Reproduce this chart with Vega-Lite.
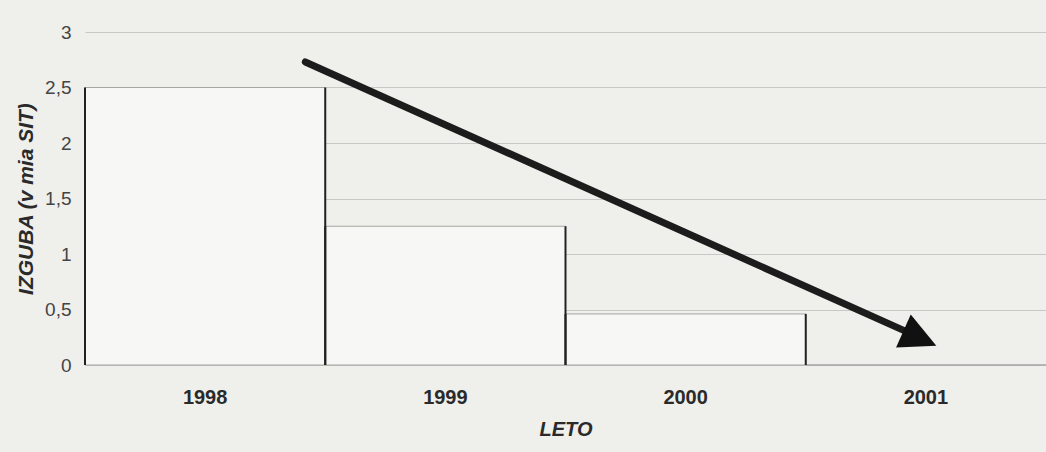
{
  "$schema": "https://vega.github.io/schema/vega-lite/v6.json",
  "width": 961,
  "height": 333,
  "autosize": {"type": "none"},
  "padding": {"left": 85, "top": 32, "right": 0, "bottom": 87},
  "background": "#efefec",
  "config": {
    "view": {"stroke": null},
    "font": "Liberation Sans"
  },
  "datasets": {
    "bars": [
      {"leto": "1998", "izguba": 2.5},
      {"leto": "1999", "izguba": 1.25},
      {"leto": "2000", "izguba": 0.46},
      {"leto": "2001", "izguba": 0}
    ],
    "arrow": [
      {"ax": 0.917, "ay": 2.73},
      {"ax": 3.44, "ay": 0.28}
    ],
    "head": [
      {"ax": 3.475, "ay": 0.24}
    ]
  },
  "layer": [
    {
      "layer": [
        {
          "data": {"name": "bars"},
          "mark": {"type": "bar", "fill": "#f7f7f5", "stroke": "#a5a5a3", "strokeWidth": 1},
          "encoding": {
            "x": {
              "field": "leto", "type": "nominal", "sort": null,
              "scale": {"paddingInner": 0, "paddingOuter": 0},
              "axis": {
                "title": "LETO", "labelAngle": 0, "ticks": false, "domain": false,
                "labelFontWeight": "bold", "labelFontSize": 20, "labelColor": "#2a2a2a",
                "labelPadding": 22, "titleFontSize": 20, "titleFontStyle": "italic",
                "titleFontWeight": "bold", "titleColor": "#2a2a2a", "titlePadding": 12
              }
            },
            "y": {
              "field": "izguba", "type": "quantitative",
              "scale": {"domain": [0, 3]},
              "axis": {
                "title": "IZGUBA (v mia SIT)", "values": [0, 0.5, 1, 1.5, 2, 2.5, 3],
                "labelExpr": "replace(format(datum.value, ''), '.', ',')",
                "grid": true, "gridColor": "#c8c8c6", "gridWidth": 1,
                "domain": false, "ticks": false,
                "labelFontSize": 19, "labelColor": "#444", "labelPadding": 14,
                "titleFontSize": 21, "titleFontStyle": "italic", "titleFontWeight": "bold",
                "titleColor": "#2a2a2a", "titlePadding": 8
              }
            }
          }
        },
        {
          "data": {"name": "bars"},
          "mark": {"type": "rule", "color": "#222", "strokeWidth": 2},
          "encoding": {
            "x": {"field": "leto", "type": "nominal", "sort": null, "bandPosition": 0},
            "y": {"field": "izguba", "type": "quantitative"},
            "y2": {"datum": 0}
          }
        },
        {
          "data": {"name": "bars"},
          "mark": {"type": "rule", "color": "#222", "strokeWidth": 2},
          "encoding": {
            "x": {"field": "leto", "type": "nominal", "sort": null, "bandPosition": 1},
            "y": {"field": "izguba", "type": "quantitative"},
            "y2": {"datum": 0}
          }
        }
      ]
    },
    {
      "layer": [
        {
          "data": {"name": "arrow"},
          "mark": {"type": "line", "color": "#1c1c1c", "strokeWidth": 7, "strokeCap": "round"},
          "encoding": {
            "x": {"field": "ax", "type": "quantitative", "scale": {"domain": [0, 4]}, "axis": null},
            "y": {"field": "ay", "type": "quantitative"}
          }
        },
        {
          "data": {"name": "head"},
          "mark": {"type": "point", "shape": "M-1,-1L1,0L-1,1Z", "filled": true, "color": "#111", "opacity": 1, "size": 1300, "angle": 24},
          "encoding": {
            "x": {"field": "ax", "type": "quantitative", "scale": {"domain": [0, 4]}, "axis": null},
            "y": {"field": "ay", "type": "quantitative"}
          }
        }
      ]
    }
  ],
  "resolve": {"scale": {"x": "independent"}}
}
